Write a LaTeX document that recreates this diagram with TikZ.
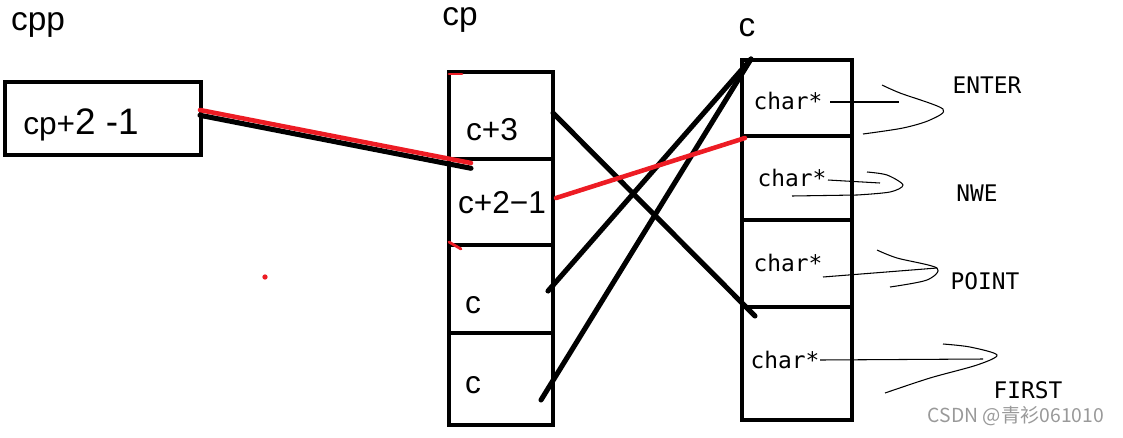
\documentclass[tikz,border=0pt]{standalone}
\usepackage{fontspec}
\setmainfont{Liberation Sans}
\newfontfamily\monofont{DejaVu Sans Mono}
\newfontfamily\cjk{Noto Sans CJK SC}
\usetikzlibrary{positioning}
\definecolor{paintred}{RGB}{237,28,36}
\tikzset{
  x=0.02cm, y=-0.02cm,
  cell/.style={draw, line width=2.8pt, inner sep=0pt},
  cpcell/.style={cell, minimum width=2.08cm},
  ccell/.style={cell, line width=2.4pt, minimum width=2.2cm},
  txt/.style={font=\fontsize{18}{20}\selectfont, inner sep=0pt},
  ctxt/.style={font=\monofont\fontsize{13}{15}\selectfont, inner sep=0pt},
  ptr/.style={line width=2.9pt, line cap=round},
  redptr/.style={paintred, line width=2.6pt, line cap=round},
  thin/.style={line width=0.6pt},
}

\begin{document}
\begin{tikzpicture}
    \useasboundingbox (0,0) rectangle (1123,437);
    % cpp
    \node [txt, font=\fontsize{19}{21}\selectfont] (cpplab) at (38,25) {cpp};
    \node [draw, line width=1.8pt, minimum width=3.92cm, minimum height=1.46cm] (cppbox) at (103,118.5) {};
    \node [txt] (cpptext) at (81,125) {cp+{\fontsize{21}{23}\selectfont 2 -1}};
    % cp
    \node [txt, font=\fontsize{19}{21}\selectfont] (cplab) at (460,20) {cp};
    \node [cpcell, minimum height=1.74cm] (cp0) at (501,115.5) {};
    \node [cpcell, minimum height=1.72cm] (cp1) at (501,202) {};
    \node [cpcell, minimum height=1.76cm] (cp2) at (501,289) {};
    \node [cpcell, minimum height=1.84cm] (cp3) at (501,379) {};
    \node [txt] at (492,130) {c+3};
    \node [txt] at (502,203) {c+2−1};
    \node [txt] at (473,305) {c};
    \node [txt] at (473,385) {c};
    % c
    \node [txt, font=\fontsize{19}{21}\selectfont] (clab) at (747,28) {c};
    \node [ccell, minimum height=1.52cm] (c0) at (797,98) {};
    \node [ccell, minimum height=1.68cm] (c1) at (797,178) {};
    \node [ccell, minimum height=1.74cm] (c2) at (797,263.5) {};
    \node [ccell, minimum height=2.26cm] (c3) at (797,363.5) {};
    \node [ctxt] (s0) at (788,101) {char*};
    \node [ctxt] (s1) at (792,178) {char*};
    \node [ctxt] (s2) at (788,263) {char*};
    \node [ctxt] (s3) at (785,360) {char*};
    % strings
    \node [ctxt] (enter) at (987,85) {ENTER};
    \node [ctxt] (nwe) at (977,193) {NWE};
    \node [ctxt] (point) at (985,281) {POINT};
    \node [ctxt] (first) at (1028,390) {FIRST};
    \node [font=\cjk\fontsize{11}{13}\selectfont, text=black!40, inner sep=0pt] (mark) at (1016,416) {CSDN @青衫061010};

    \coordinate (cpptail) at (200,110);
    \coordinate (cp1in) at (471,163);
    \coordinate (cp0out) at (553,113);
    \coordinate (cp1out) at (556,198);
    \coordinate (cp2out) at (548,291);
    \coordinate (cp3out) at (541,400);
    \coordinate (ctop) at (751,59);
    \coordinate (c1in) at (745,138);
    \coordinate (c3in) at (755,316);

    % pointers
    \draw [ptr] ([yshift=-3pt]cpptail) -- ([yshift=-3pt]cp1in);
    \draw [redptr] (cpptail) -- (cp1in);
    \draw [ptr] (cp0out) -- (c3in);
    \draw [ptr] (cp2out) -- (ctop);
    \draw [ptr] (cp3out) -- (ctop);
    \draw [redptr] (cp1out) -- (c1in);
    \draw [redptr, line width=1.6pt] (449,74) -- (462,74);
    \draw [redptr, line width=1.6pt] (449,242) -- (461,249);
    \fill [paintred] (265,277) circle (1.5pt);

    % strings
    \draw [thin] (830,102) -- (899,102);
    \draw [thin] plot [smooth] coordinates {(882,85) (900,93) (943,109) (930,120) (903,128) (863,134)};
    \draw [thin] (828,180) -- (880,183);
    \draw [thin] plot [smooth] coordinates {(867,172) (887,175) (903,185) (890,192) (857,195)} -- (792,196);
    \draw [thin] (823,277) -- (937,268);
    \draw [thin] plot [smooth] coordinates {(877,250) (897,258) (937,268) (927,280) (890,287)};
    \draw [thin] (820,360) -- (983,359);
    \draw [thin] plot [smooth] coordinates {(943,344) (970,347) (997,355) (977,365) (930,378) (885,393)};
  \end{tikzpicture}
\end{document}
